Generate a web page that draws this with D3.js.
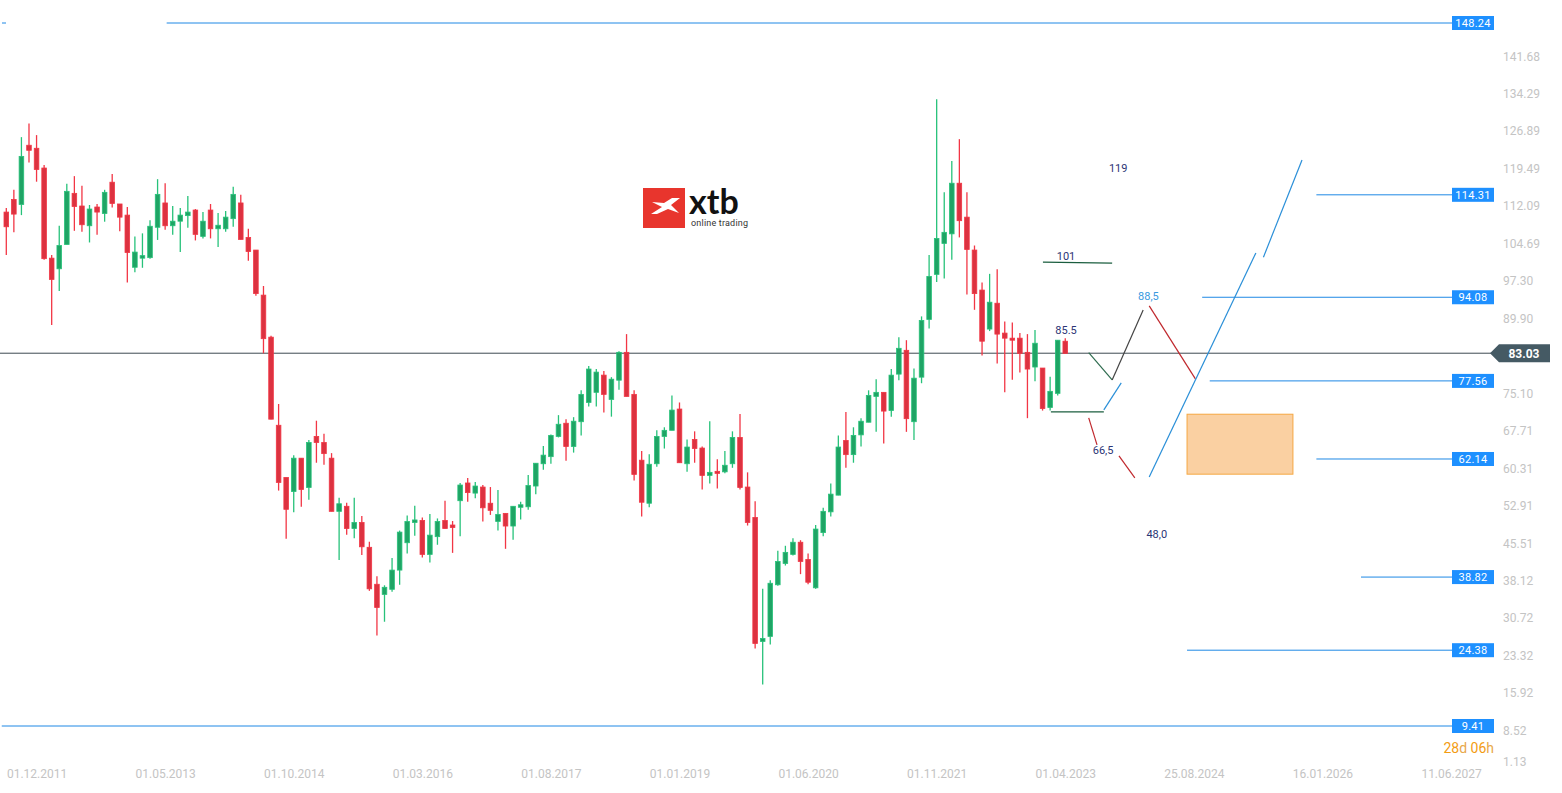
<!DOCTYPE html>
<html><head><meta charset="utf-8">
<script src="https://cdnjs.cloudflare.com/ajax/libs/d3/7.8.5/d3.min.js"></script>
<style>html,body{margin:0;padding:0;background:#fff;overflow:hidden}svg{display:block;font-family:Roboto,"Noto Sans",sans-serif}</style>
</head><body><svg id="c" width="1562" height="793"></svg>
<script>
// Monthly candles, Aug 2011 .. Apr 2023 (month index 0..140)
const open=[110.9,113.4,112.4,124.1,123.5,119.6,101.8,99.7,104.5,114.6,112.1,108.2,111.9,110.6,116.8,112.5,110.3,100.0,101.8,101.9,107.9,112.7,108.2,109.1,110.2,111.3,106.1,111.3,107.6,107.6,109.6,112.7,105.9,103.4,94.5,86.2,68.8,58.5,55.7,62.3,56.5,66.6,65.4,62.3,51.8,52.8,48.4,49.6,44.7,37.4,35.4,36.4,40.2,45.6,49.6,50.0,43.3,46.8,50.0,49.1,53.9,57.4,55.4,56.6,53.4,49.8,51.4,48.9,52.6,52.7,56.8,61.2,62.6,66.6,69.2,64.6,69.5,73.3,75.3,78.7,73.9,77.7,83.2,74.9,61.9,53.4,61.2,66.6,67.8,72.0,61.2,66.0,64.3,58.9,59.7,59.6,61.2,66.4,56.6,50.6,26.1,27.1,37.3,41.5,43.3,45.7,42.3,36.7,47.6,51.7,55.0,65.8,63.0,66.9,69.4,74.5,75.3,71.7,78.9,83.6,69.5,78.3,89.7,98.6,104.7,106.6,116.6,109.9,103.4,95.5,87.8,92.9,87.0,86.0,86.0,83.2,80.3,80.1,72.3,75.1,85.4];
const high=[111.7,115.3,125.7,128.4,126.1,120.2,102.4,108.2,116.5,118.0,116.1,112.3,112.5,115.3,118.4,112.5,111.9,106.1,106.7,109.3,117.4,116.6,112.1,111.7,114.1,111.5,110.9,112.5,110.7,111.1,115.9,114.3,107.6,103.4,96.3,86.5,73.0,58.5,62.9,62.3,65.9,69.7,67.1,63.3,54.5,53.5,54.5,50.9,45.8,39.0,37.2,42.6,48.0,51.0,52.9,50.6,51.3,50.4,53.9,49.9,57.4,58.4,57.6,57.0,56.6,56.0,51.4,52.8,53.7,59.0,61.3,64.7,67.0,70.8,70.0,70.4,75.7,80.5,79.9,79.5,78.3,83.4,86.8,75.7,63.7,63.1,67.8,68.4,74.7,73.3,66.0,67.6,64.6,69.6,62.1,63.7,67.6,71.0,59.5,53.8,36.5,38.2,44.0,45.0,46.5,46.1,43.5,49.1,52.5,57.3,66.8,71.4,68.4,70.2,75.7,77.9,75.3,79.9,86.2,85.6,80.0,90.3,102.4,133.2,114.8,121.0,125.3,114.8,104.3,97.0,98.7,99.6,89.3,89.1,87.0,86.8,87.6,80.1,78.4,85.6,86.0];
const low=[102.4,106.9,110.3,120.7,116.9,101.5,88.6,95.3,104.5,107.2,107.0,104.9,106.4,109.0,111.8,107.1,97.0,99.0,99.9,101.7,105.4,107.4,106.4,103.0,107.8,105.3,105.7,105.7,104.0,107.0,108.0,105.5,101.3,94.4,83.0,70.0,55.9,46.4,51.6,52.7,54.1,61.4,61.0,51.8,42.2,47.2,46.5,43.2,36.1,27.3,30.0,35.9,37.3,43.5,47.0,42.7,41.7,45.2,48.4,43.6,46.9,53.7,54.4,49.8,51.1,48.0,44.4,46.2,50.2,52.1,55.2,60.0,61.2,66.4,61.8,63.4,66.8,72.5,72.5,71.3,70.5,75.8,74.5,57.9,50.8,52.6,60.6,64.2,67.8,61.4,59.6,61.4,56.1,57.3,56.3,59.3,60.4,56.1,49.0,24.7,17.6,25.5,37.1,41.1,43.1,39.4,37.4,36.5,46.9,50.8,55.0,60.4,61.4,64.6,69.4,67.5,65.2,70.5,77.7,67.5,65.9,77.1,87.9,97.1,97.8,101.5,105.9,94.6,91.6,82.6,87.4,81.0,75.3,77.8,79.2,70.2,77.5,71.7,71.7,74.7,83.0];
const close=[108.0,110.5,121.9,123.1,119.3,101.7,97.6,104.3,115.0,112.0,108.4,111.5,110.9,114.8,112.6,109.9,102.9,103.0,102.3,108.1,114.4,108.2,109.1,110.3,110.9,106.5,109.1,107.6,108.3,109.9,114.4,105.5,103.1,94.8,85.9,70.0,57.5,52.2,62.3,56.1,65.4,65.4,63.2,51.8,53.3,48.4,49.6,44.8,36.5,32.8,36.8,40.2,47.7,49.8,50.1,43.3,47.1,49.8,48.4,48.6,57.0,55.5,56.8,52.5,52.0,51.2,48.9,52.8,53.1,56.9,61.3,62.9,66.8,69.0,64.6,69.6,74.9,79.9,79.3,74.9,77.9,83.2,74.5,59.1,53.6,61.1,66.6,67.8,71.8,61.4,64.5,64.2,58.9,59.5,59.3,60.9,66.4,56.5,49.6,25.7,26.7,37.6,41.9,43.7,45.7,41.9,37.8,48.3,51.8,55.2,64.5,63.0,66.8,69.6,74.7,75.3,71.6,78.7,84.0,70.1,78.1,89.5,98.2,105.7,106.9,116.6,109.2,103.5,94.8,85.4,93.1,86.8,86.0,85.6,83.0,79.9,85.0,72.1,75.5,85.6,83.0];

const xTickIdx=[4,21,38,55,72,89,106,123,140,157,174,191];
const xTickLabels=["01.12.2011","01.05.2013","01.10.2014","01.03.2016","01.08.2017","01.01.2019","01.06.2020","01.11.2021","01.04.2023","25.08.2024","16.01.2026","11.06.2027"];
const yTicks=[141.68,134.29,126.89,119.49,112.09,104.69,97.30,89.90,75.10,67.71,60.31,52.91,45.51,38.12,30.72,23.32,15.92,8.52,1.13];
// horizontal levels: [value, start month index]
const levels=[148.24,114.31,94.08,77.56,62.14,38.82,24.38,9.41];
const levelStart=[21.2,173.2,158.1,159.1,173.2,179.1,156.1,-0.6];
const lastPrice=83.03;
// annotation segments [[i1,v1],[i2,v2],color]
const segments=[
 [[137.05,101.0],[146.2,100.8],"#1b5e3f"],
 [[138.1,71.44],[145.1,71.44],"#1b5e3f"],
 [[143.1,83.15],[146.2,77.76],"#2e6b4f"],
 [[146.2,77.76],[150.3,91.58],"#444"],
 [[145.1,71.83],[147.4,77.17],"#2a8fd8"],
 [[143.1,70.25],[144.2,64.92],"#c0282d"],
 [[147.1,62.75],[149.2,58.41],"#c0282d"],
 [[151.1,92.37],[157.2,77.95],"#c0282d"],
 [[151.1,58.6],[165.2,102.84],"#2a8fd8"],
 [[166.2,101.99],[171.3,121.2],"#2a8fd8"]
];
const labels=[[140.1,102.2,"101","#2c3575"],[140.1,87.6,"85.5","#2c3575"],[147.0,119.6,"119","#2c3575"],[151.0,94.3,"88,5","#3a9ae0"],[145.0,63.9,"66,5","#2c3575"],[152.1,47.2,"48,0","#2c3575"]];
const zone=[[156.1,70.98],[170.1,59.14]];

const svg=d3.select("#c");
const x=d3.scaleLinear().domain([0,191]).range([6.3,6.3+191*7.564]);
const y=d3.scaleLinear().domain([9.41,148.24]).range([726,23]);

// logo
const lg=svg.append("g");
lg.append("rect").attr("x",643).attr("y",188).attr("width",42).attr("height",40).attr("fill","#e8352d");
lg.append("path").attr("d","M651,214 L662,207 L652,202 L664,203 L672,198 L680,198 L671,205 L679,213 L668,209 L657,214 Z").attr("fill","#fff");
lg.append("text").attr("x",689).attr("y",214).attr("font-size",34).attr("font-weight","bold").attr("fill","#111").attr("font-family","Lato,Roboto,sans-serif").text("xtb");
lg.append("text").attr("x",691).attr("y",226).attr("font-size",9).attr("fill","#333").attr("textLength",57).text("online trading");

// last price line
svg.append("line").attr("x1",0).attr("x2",1495).attr("y1",y(lastPrice)).attr("y2",y(lastPrice)).attr("stroke","#3d4a52").attr("stroke-width",1);

// levels
levels.forEach((v,k)=>{
  svg.append("line").attr("x1",x(levelStart[k])).attr("x2",1452).attr("y1",y(v)).attr("y2",y(v)).attr("stroke","#1e88e5").attr("stroke-width",1);
});
svg.append("line").attr("x1",2).attr("x2",6).attr("y1",y(148.24)).attr("y2",y(148.24)).attr("stroke","#1e88e5");

// zone
svg.append("rect").attr("x",x(zone[0][0])).attr("y",y(zone[0][1])).attr("width",x(zone[1][0])-x(zone[0][0])).attr("height",y(zone[1][1])-y(zone[0][1])).attr("fill","#fad0a2").attr("stroke","#f5a742").attr("stroke-width",1);

// candles
const idx=d3.range(open.length);
const g=svg.append("g");
idx.forEach(i=>{
  const up=close[i]>=open[i];
  const fill=up?"#1fa465":"#dc3240", st=up?"#27c27a":"#f23645";
  const cx=x(i);
  g.append("line").attr("x1",cx).attr("x2",cx).attr("y1",y(high[i])).attr("y2",y(low[i])).attr("stroke",st).attr("stroke-width",1.3);
  const t=y(Math.max(open[i],close[i])), b=y(Math.min(open[i],close[i]));
  g.append("rect").attr("x",cx-2.3).attr("y",t).attr("width",4.6).attr("height",Math.max(1,b-t)).attr("fill",fill).attr("stroke",st).attr("stroke-width",0.8);
});

// annotations
segments.forEach(s=>{
  svg.append("line").attr("x1",x(s[0][0])).attr("y1",y(s[0][1])).attr("x2",x(s[1][0])).attr("y2",y(s[1][1])).attr("stroke",s[2]).attr("stroke-width",1.2);
});
labels.forEach(l=>{
  svg.append("text").attr("x",x(l[0])).attr("y",y(l[1])).attr("dy","0.35em").attr("text-anchor","middle").attr("font-size",11).attr("fill",l[3]).text(l[2]);
});

// y axis
const ya=svg.append("g").attr("transform","translate(1497,0)").call(d3.axisRight(y).tickValues(yTicks).tickSize(0).tickPadding(6).tickFormat(d=>d.toFixed(2)));
ya.select(".domain").remove();
ya.selectAll("text").attr("fill","#c4c4c4").attr("font-size",12).attr("font-family","Roboto,sans-serif");
ya.selectAll(".tick").filter(d=>d===1.13).select("text").attr("dy","-0.2em");

// x axis
const xa=svg.append("g").attr("transform","translate(0,766)").call(d3.axisBottom(x).tickValues(xTickIdx).tickSize(0).tickPadding(3).tickFormat((d,k)=>xTickLabels[k]));
xa.select(".domain").remove();
xa.selectAll("text").attr("fill","#c4c4c4").attr("font-size",12).attr("font-family","Roboto,sans-serif");

// level boxes
levels.forEach(v=>{
  const yy=y(v);
  svg.append("rect").attr("x",1452).attr("y",yy-7).attr("width",42).attr("height",14).attr("fill","#1e90ff");
  svg.append("text").attr("x",1473).attr("y",yy).attr("dy","0.36em").attr("text-anchor","middle").attr("font-size",11).attr("fill","#fff").attr("letter-spacing","0.3").text(v.toFixed(2));
});
// last price box
const ly=y(lastPrice);
svg.append("path").attr("d",`M1490,${ly} L1499,${ly-9} L1550,${ly-9} L1550,${ly+9} L1499,${ly+9} Z`).attr("fill","#455a64");
svg.append("text").attr("x",1524).attr("y",ly).attr("dy","0.36em").attr("text-anchor","middle").attr("font-size",12).attr("font-weight","bold").attr("fill","#fff").text(lastPrice.toFixed(2));

// countdown
const cd=svg.append("text").attr("x",1494).attr("y",753).attr("text-anchor","end").attr("font-size",14).attr("fill","#f39c12");
cd.append("tspan").text("28");cd.append("tspan").attr("fill","#e8a84a").text("d ");
cd.append("tspan").text("06");cd.append("tspan").attr("fill","#e8a84a").text("h");
</script></body></html>
